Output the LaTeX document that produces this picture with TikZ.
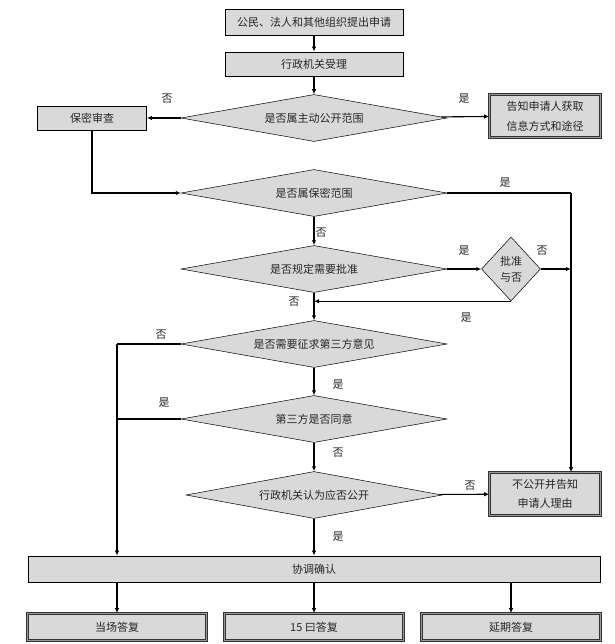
\documentclass[tikz,border=0pt]{standalone}
\usepackage{fontspec}
\setmainfont{Noto Sans CJK SC}
\usetikzlibrary{arrows.meta,shapes.geometric}
\tikzset{
	box/.style={draw=black, line width=0.8pt, fill=black!15, inner sep=0pt, text=black!85, font=\fontsize{11}{13}\selectfont},
	dbox/.style={box, draw=black!80, double=black!40, double distance=1.2pt, line width=0.7pt, align=center},
	ask/.style={diamond, draw=black, line width=0.5pt, fill=black!15, aspect=5.6, inner sep=0pt, minimum width=266pt, minimum height=47pt, text=black!85, font=\fontsize{11}{13}\selectfont},
	flow/.style={line width=1.1pt, -{Latex[length=5pt,width=4.5pt]}},
	heavy/.style={line width=2pt},
	tag/.style={text=black!85, font=\fontsize{11}{13}\selectfont}
}

\begin{document}
\begin{tikzpicture}[x=1pt, y=-1pt]
			%%%%% START %%%%%
			\useasboundingbox (0, 0) rectangle (614, 644);
			
			\node[box, minimum width=178pt, minimum height=26pt] (apply) at (314, 22) {公民、法人和其他组织提出申请};
			\node[box, minimum width=178pt, minimum height=24pt] (accept) at (314, 64) {行政机关受理};
			
			\node[ask] (active) at (314, 118) {是否属主动公开范围};
			\node[box, minimum width=109pt, minimum height=24pt] (review) at (92, 118) {保密审查};
			\node[dbox, minimum width=111pt, minimum height=43pt, font=\fontsize{11}{20}\selectfont] (inform) at (545, 116) {告知申请人获取\\信息方式和途径};
			
			\node[ask] (secret) at (314, 193) {是否属保密范围};
			\node[ask] (needok) at (314, 269) {是否规定需要批准};
			\node[ask, aspect=1, minimum width=59pt, minimum height=64pt, align=center, font=\fontsize{11}{16}\selectfont] (okay) at (511, 269) {批准\\与否};
			\node[ask] (third) at (314, 344) {是否需要征求第三方意见};
			\node[ask] (agree) at (314, 419) {第三方是否同意};
			\node[ask, minimum width=256pt] (should) at (314, 495) {行政机关认为应否公开};
			\node[dbox, minimum width=111pt, minimum height=43pt, font=\fontsize{11}{19}\selectfont] (refuse) at (545, 494) {不公开并告知\\申请人理由};
			
			\node[box, minimum width=572pt, minimum height=26pt] (confirm) at (314, 569) {协调确认};
			\node[dbox, minimum width=179pt, minimum height=27pt] (onsite) at (117, 627) {当场答复};
			\node[dbox, minimum width=179pt, minimum height=27pt] (days) at (314, 627) {15 曰答复};
			\node[dbox, minimum width=179pt, minimum height=27pt] (later) at (511, 627) {延期答复};
			
			\coordinate (rside) at (571, 193);
			\coordinate (lside) at (117, 344);
			
			\draw[flow] (apply) -- (accept);
			\draw[flow] (accept) -- (active);
			\draw[flow] (active) -- (review);
			\draw[flow] (active) -- (inform);
			\draw[flow, heavy] (review.south) |- (secret.west);
			\draw[heavy] (secret.east) -- (rside);
			\draw[flow] (rside) -- (rside |- refuse.north);
			\draw[flow] (secret) -- (needok);
			\draw[flow] (needok) -- (okay);
			\draw[flow] (okay.east) -- (okay.east -| rside);
			\draw[flow] (okay.south) -- (okay.south -| third.north);
			\draw[flow] (needok) -- (third);
			\draw[heavy] (third.west) -- (lside);
			\draw[heavy] (agree.west) -- (agree.west -| lside);
			\draw[flow] (lside) -- (lside |- confirm.north);
			\draw[flow] (third) -- (agree);
			\draw[flow] (agree) -- (should);
			\draw[flow] (should) -- (refuse);
			\draw[flow] (should) -- (confirm);
			
			\draw[flow] (confirm.south -| onsite) -- (onsite);
			\draw[flow] (confirm) -- (days);
			\draw[flow] (confirm.south -| later) -- (later);
			
			\node[tag] (n1) at (167, 99) {否};
			\node[tag] (y1) at (464, 99) {是};
			\node[tag] (y2) at (505, 183) {是};
			\node[tag] (n2) at (321, 233) {否};
			\node[tag] (y3) at (464, 251) {是};
			\node[tag] (n3) at (542, 251) {否};
			\node[tag] (y4) at (466, 318) {是};
			\node[tag] (n4) at (294, 302) {否};
			\node[tag] (n5) at (161, 335) {否};
			\node[tag] (y5) at (338, 385) {是};
			\node[tag] (y6) at (164, 403) {是};
			\node[tag] (n6) at (338, 453) {否};
			\node[tag] (n7) at (470, 486) {否};
			\node[tag] (y7) at (338, 537) {是};
			
			%%%%% END %%%%%
\end{tikzpicture}
\end{document}
